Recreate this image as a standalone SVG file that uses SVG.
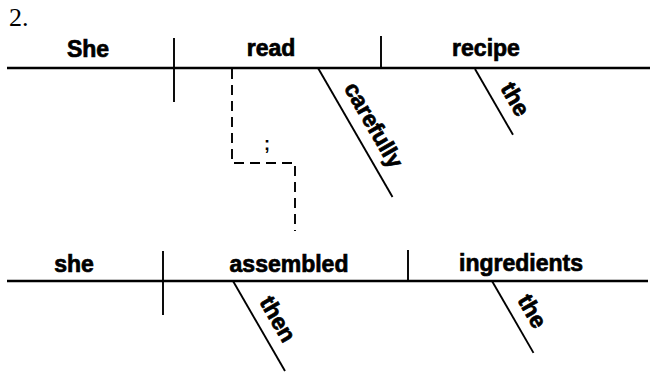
<svg xmlns="http://www.w3.org/2000/svg" width="656" height="373" viewBox="0 0 656 373">
<style>
.w{font-family:"Liberation Sans",Arial,sans-serif;font-weight:bold;font-size:23px;fill:#000;stroke:#000;stroke-width:0.7;text-anchor:middle}
.d{font-family:"Liberation Sans",Arial,sans-serif;font-weight:bold;font-size:23px;fill:#000;stroke:#000;stroke-width:0.7}
.base{stroke:#000;stroke-width:2.4;fill:none}
.div{stroke:#000;stroke-width:1.9;fill:none}
.diag{stroke:#000;stroke-width:1.9;fill:none}
.dash{stroke:#000;stroke-width:1.9;fill:none;stroke-dasharray:10 6}
</style>
<rect width="656" height="373" fill="#fff"/>
<text x="9" y="26" font-family="Liberation Serif,Times New Roman,serif" font-size="26" fill="#000">2.</text>
<g id="clause1">
<line class="base" x1="7" y1="68" x2="650" y2="68"/>
<line class="div" x1="174" y1="38" x2="174" y2="102"/>
<line class="div" x1="381" y1="36" x2="381" y2="68"/>
</g>
<g id="clause2">
<line class="base" x1="7" y1="281" x2="648" y2="281"/>
<line class="div" x1="163" y1="251" x2="163" y2="315"/>
<line class="div" x1="408" y1="250" x2="408" y2="281"/>
</g>
<g id="she1"><text class="w" x="88" y="57">She</text></g>
<g id="read"><text class="w" x="271" y="56">read</text></g>
<g id="recipe"><text class="w" x="486" y="56">recipe</text></g>
<g id="carefully" transform="translate(318,68) rotate(60)">
<line class="diag" x1="0" y1="0" x2="149" y2="0"/>
<text class="d" x="30" y="-12">carefully</text>
</g>
<g id="the1" transform="translate(475,69) rotate(60)">
<line class="diag" x1="0" y1="0" x2="76" y2="0"/>
<text class="d" x="29" y="-12">the</text>
</g>
<g id="she2"><text class="w" x="74" y="272">she</text></g>
<g id="assembled"><text class="w" x="289" y="272">assembled</text></g>
<g id="ingredients"><text class="w" x="521" y="271">ingredients</text></g>
<g id="then" transform="translate(233,281) rotate(60)">
<line class="diag" x1="0" y1="0" x2="104" y2="0"/>
<text class="d" x="31" y="-12">then</text>
</g>
<g id="the2" transform="translate(492,281) rotate(60)">
<line class="diag" x1="0" y1="0" x2="83" y2="0"/>
<text class="d" x="29" y="-12">the</text>
</g>
<g id="connectors">
<polyline class="dash" points="232,69 232,163 295,163 295,231"/>
<text x="267" y="150" font-family="Liberation Sans,Arial,sans-serif" font-weight="bold" font-size="18" text-anchor="middle" fill="#000">;</text>
</g>
</svg>
